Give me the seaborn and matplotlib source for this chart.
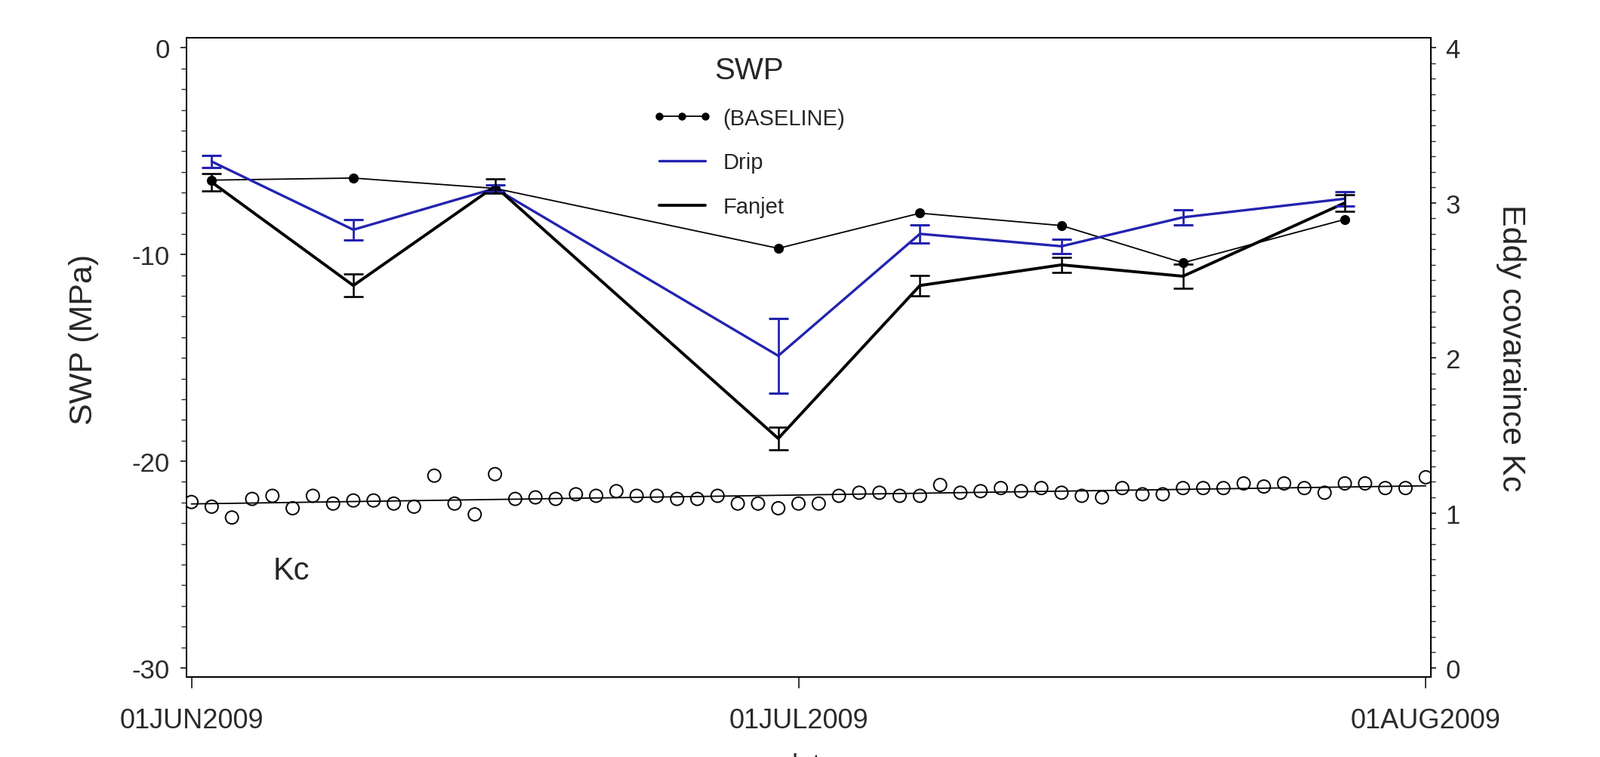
import numpy as np
import pandas as pd
import matplotlib
matplotlib.use("Agg")
import matplotlib.pyplot as plt
import matplotlib.dates as mdates
from matplotlib.lines import Line2D
from matplotlib.ticker import MultipleLocator, FixedLocator, NullLocator
import seaborn as sns

# ---------------- data ----------------
swp_dates = ["2009-06-02", "2009-06-09", "2009-06-16", "2009-06-30",
             "2009-07-07", "2009-07-14", "2009-07-20", "2009-07-28"]
baseline_swp = [-6.4, -6.3, -6.8, -9.7, -8.0, -8.6, -10.4, -8.3]
drip_swp = [-5.5, -8.8, -6.8, -14.9, -9.0, -9.6, -8.2, -7.3]
drip_err = [0.30, 0.50, 0.15, 1.80, 0.45, 0.35, 0.38, 0.35]
fanjet_swp = [-6.5, -11.5, -6.7, -18.9, -11.5, -10.5, -11.05, -7.5]
fanjet_err = [0.42, 0.55, 0.35, 0.55, 0.50, 0.35, 0.60, 0.40]

kc_start = "2009-06-01"
kc_values = [1.07, 1.04, 0.97, 1.09, 1.11, 1.03, 1.11, 1.06, 1.08, 1.08,
             1.06, 1.04, 1.24, 1.06, 0.99, 1.25, 1.09, 1.10, 1.09, 1.12,
             1.11, 1.14, 1.11, 1.11, 1.09, 1.09, 1.11, 1.06, 1.06, 1.03,
             1.06, 1.06, 1.11, 1.13, 1.13, 1.11, 1.11, 1.18, 1.13, 1.14,
             1.16, 1.14, 1.16, 1.13, 1.11, 1.10, 1.16, 1.12, 1.12, 1.16,
             1.16, 1.16, 1.19, 1.17, 1.19, 1.16, 1.13, 1.19, 1.19, 1.16,
             1.16, 1.23]

x_tick_dates = ["2009-06-01", "2009-07-01", "2009-08-01"]
x_tick_labels = ["01JUN2009", "01JUL2009", "01AUG2009"]
left_ticks = [0, -10, -20, -30]
right_ticks = [0, 1, 2, 3, 4]

legend_title = "SWP"
series_labels = ["(BASELINE)", "Drip", "Fanjet"]

# ---------------- style ----------------
sns.set_style("ticks")
plt.rcParams["font.family"] = ["Liberation Sans", "DejaVu Sans"]
plt.rcParams["axes.linewidth"] = 1.4
plt.rcParams["axes.unicode_minus"] = False

BLUE = "#2323B0"
TICKCOL = "#2a2a2a"

swp_x = mdates.date2num(pd.to_datetime(swp_dates))
kc_x = mdates.date2num(pd.date_range(kc_start, periods=len(kc_values), freq="D"))
xt = mdates.date2num(pd.to_datetime(x_tick_dates))

fig = plt.figure(figsize=(21.19, 10.04), dpi=100)
ax = fig.add_axes([0.1165, 0.1059, 0.7779, 0.8436])
ax2 = ax.twinx()

# SWP lines
sns.lineplot(x=swp_x, y=baseline_swp, ax=ax, color="black", lw=1.3,
             marker="o", markersize=9.5, markeredgewidth=0)
sns.lineplot(x=swp_x, y=drip_swp, ax=ax, color=BLUE, lw=2.4)
sns.lineplot(x=swp_x, y=fanjet_swp, ax=ax, color="black", lw=2.8)
ax.errorbar(swp_x, drip_swp, yerr=drip_err, fmt="none", ecolor=BLUE,
            elinewidth=2.0, capsize=9.5, capthick=2.2)
ax.errorbar(swp_x, fanjet_swp, yerr=fanjet_err, fmt="none", ecolor="black",
            elinewidth=1.8, capsize=9.5, capthick=1.9)

# Kc scatter + regression
sns.regplot(x=kc_x, y=kc_values, ax=ax2, ci=None,
            scatter_kws=dict(s=150, facecolors="none", edgecolors="black",
                             linewidths=1.4, alpha=1),
            line_kws=dict(color="black", lw=1.3))

# axes limits / ticks
ax.set_xlim(xt[0] - 0.25, xt[-1] + 0.26)
ax.set_ylim(-30.43, 0.5)
ax2.set_ylim(-0.0573, 4.0667)

ax.xaxis.set_major_locator(FixedLocator(xt))
ax.set_xticklabels(x_tick_labels)
ax.xaxis.set_minor_locator(NullLocator())
ax.yaxis.set_major_locator(FixedLocator(left_ticks))
ax.yaxis.set_minor_locator(MultipleLocator(1))
ax2.yaxis.set_major_locator(FixedLocator(right_ticks))
ax2.yaxis.set_minor_locator(MultipleLocator(0.1))

ax.tick_params(axis="x", which="major", direction="out", length=11, width=1.3,
               labelsize=26, pad=18, labelcolor=TICKCOL)
ax.tick_params(axis="y", which="major", direction="out", length=6, width=1.3,
               labelsize=25, pad=10, labelcolor=TICKCOL)
ax.tick_params(axis="y", which="minor", direction="out", length=5, width=1.0)
ax2.tick_params(axis="y", which="major", direction="out", length=5, width=1.3,
                labelsize=25, pad=9, labelcolor=TICKCOL)
ax2.tick_params(axis="y", which="minor", direction="out", length=4, width=1.0)
ax.set_xlabel("")
ax.set_ylabel("")
ax2.set_ylabel("")
ax2.set_xlabel("")
for a in (ax, ax2):
    for s in a.spines.values():
        s.set_visible(True)
        s.set_color("black")
        s.set_linewidth(1.4)

# texts
fig.text(111 / 2119, 1 - 450 / 1004, "SWP (MPa)", rotation=90,
         ha="center", va="center", fontsize=31)
fig.text(2001 / 2119, 1 - 461 / 1004, "Eddy covaraince Kc", rotation=-90,
         ha="center", va="center", fontsize=31)
fig.text(386 / 2119, 1 - 768 / 1004, "Kc", ha="center", va="baseline",
         fontsize=30)
fig.text(1072 / 2119, 1 - 1025 / 1004, "date", ha="center", va="baseline",
         fontsize=26, color=TICKCOL)

# legend
handles = [
    Line2D([], [], color="black", lw=1.3, marker="o", markersize=7.5,
           markeredgewidth=0),
    Line2D([], [], color=BLUE, lw=2.4),
    Line2D([], [], color="black", lw=2.8),
]
leg = ax2.legend(handles, series_labels, title=legend_title, numpoints=3,
                 loc="upper left", bbox_to_anchor=(864 / 2119, 1 - 75 / 1004),
                 bbox_transform=fig.transFigure, frameon=False, fontsize=21,
                 title_fontsize=29, handlelength=2.7, handletextpad=0.5,
                 labelspacing=1.05, borderpad=0, borderaxespad=0)

fig.savefig("out.png", dpi=100, facecolor="white")
